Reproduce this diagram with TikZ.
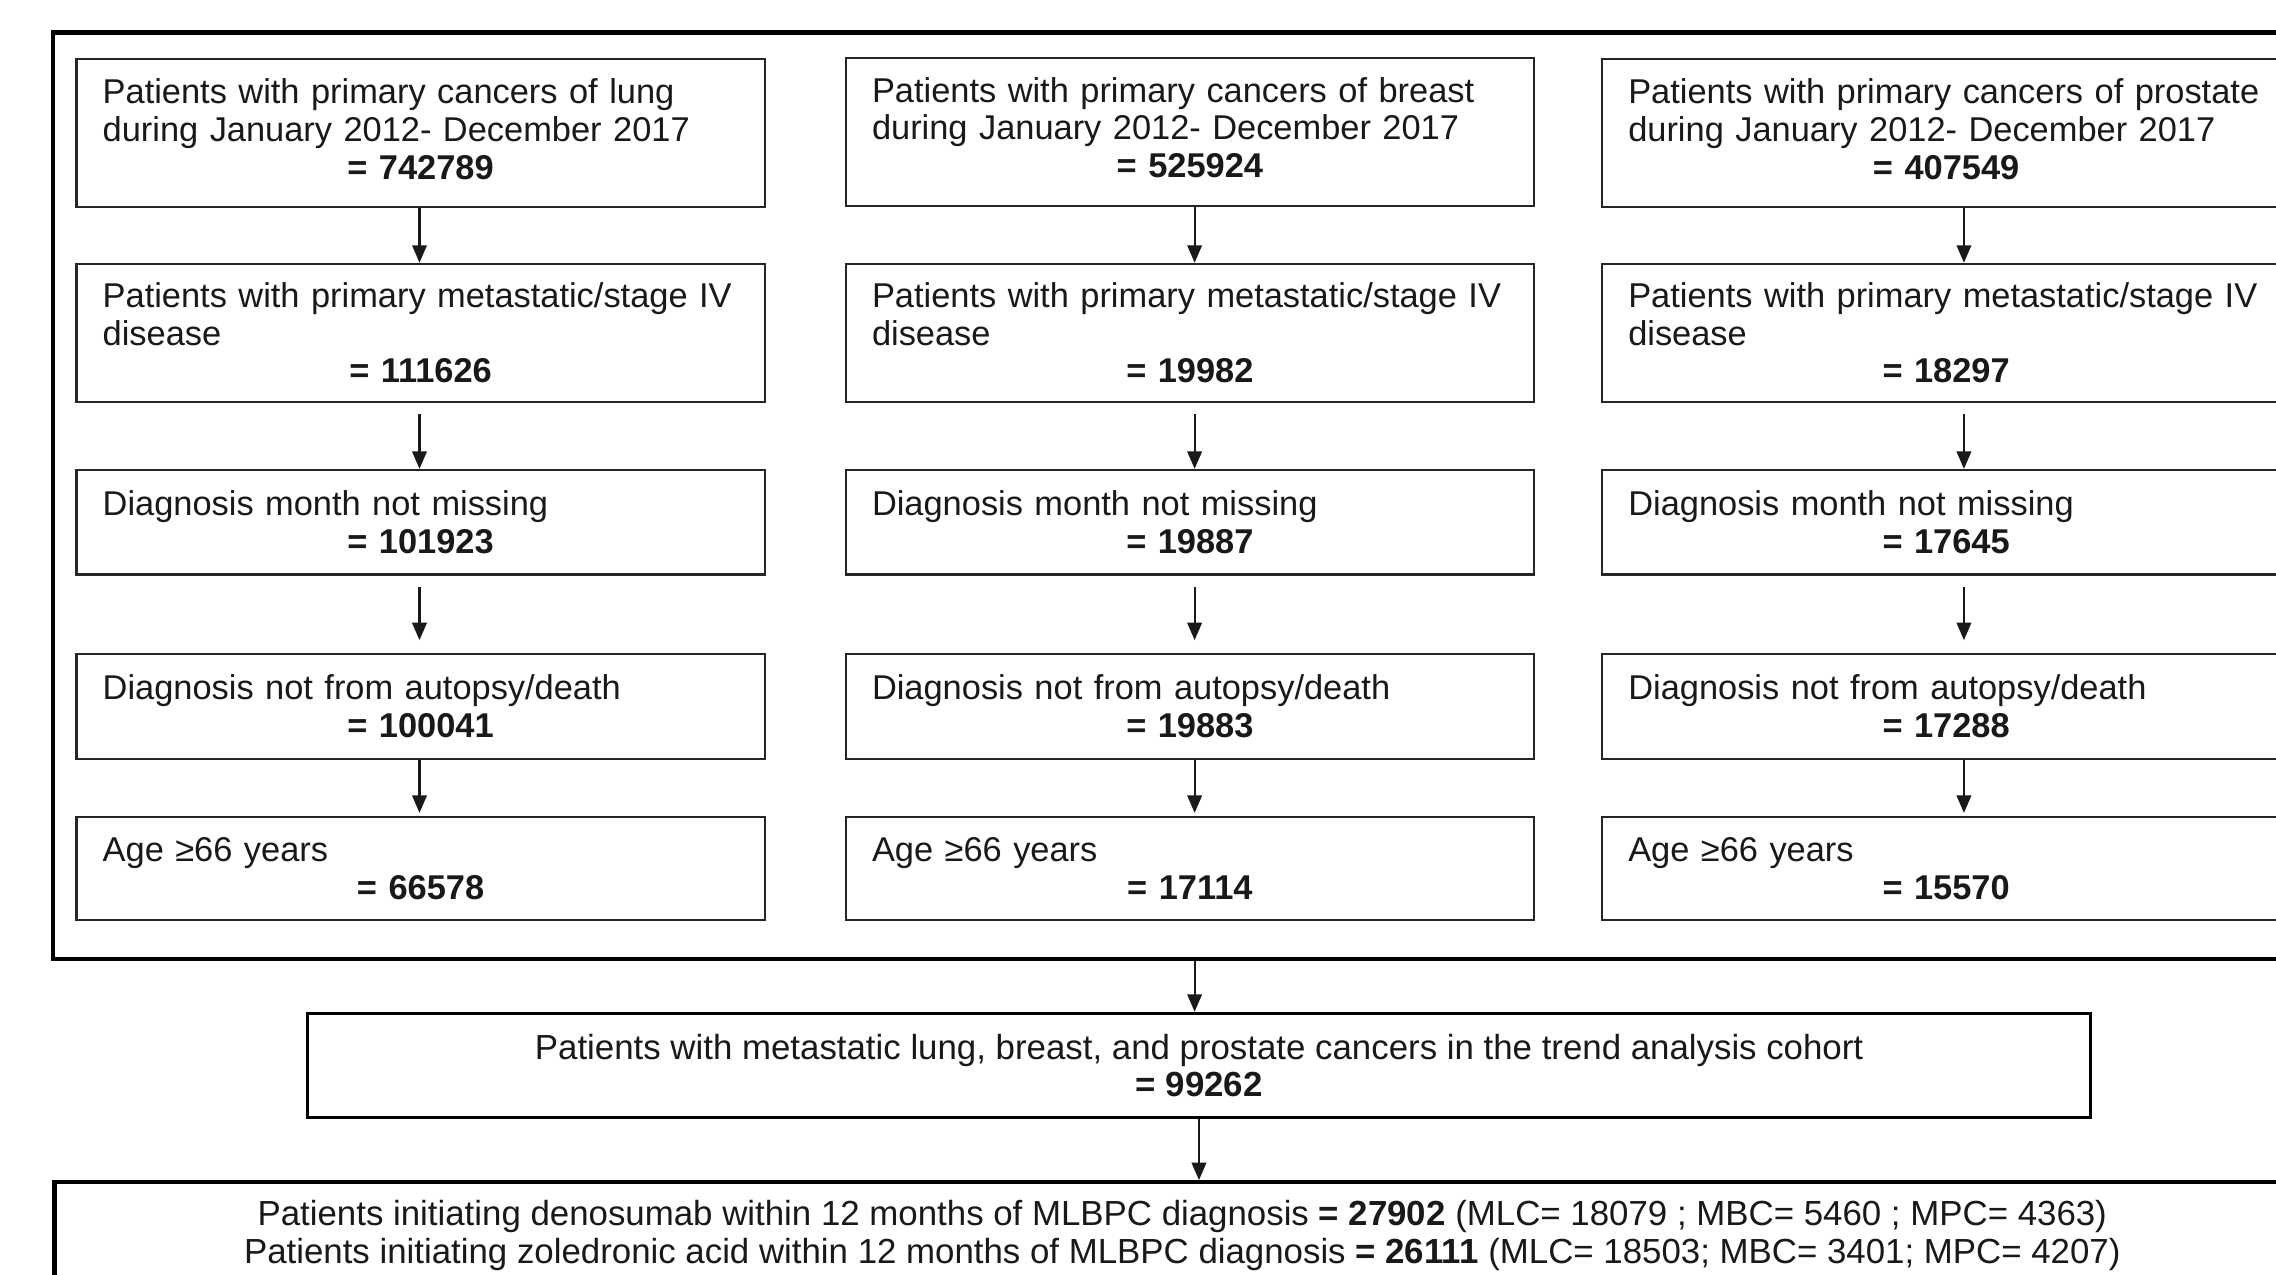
\documentclass[tikz,border=0pt]{standalone}
\usepackage{fontspec}
\setmainfont{Liberation Sans}
\usetikzlibrary{arrows.meta}
\begin{document}
\begin{tikzpicture}[x=0.5pt,y=-0.5pt,
  txt/.style={font=\fontsize{12}{13}\selectfont, text=black!90},
  flowbox/.style={font=\fontsize{11.85}{13}\selectfont, text=black!90, draw=black!85, line width=0.75pt, text width=219pt, inner xsep=9pt, inner ysep=0pt, align=left, anchor=north west},
  bigframe/.style={draw=black, line width=1.5pt, anchor=north west, inner sep=0pt},
  midframe/.style={txt, draw=black, line width=1.1pt, anchor=north west, inner sep=0pt, align=center},
  arr/.style={-{Triangle[length=6pt,width=5pt]}, line width=0.7pt, draw=black!90},
  h1/.style={minimum height=51pt},
  h2/.style={minimum height=47.5pt},
  h3/.style={minimum height=36pt},
  h4/.style={minimum height=36pt},
  h5/.style={minimum height=35.5pt}]
\path[use as bounding box] (0,0) rectangle (1568,878);
\clip (0,0) rectangle (1568,878);
\fill[white] (0,0) rectangle (1568,878);
\newcommand{\numline}[1]{\\\hspace*{\fill}\textbf{#1}\hspace*{\fill}}
\newcommand{\lowstrut}{\rule[-3pt]{0pt}{3pt}}

% outer frame
\node[bigframe, minimum width=777.5pt, minimum height=319pt] (outer) at (35,21) {};

% column 1: lung
\node[flowbox,h1] (r1c1) at (52,40) {\mbox{Patients with primary cancers of lung}\\\mbox{during January 2012- December 2017}\numline{= 742789\lowstrut}};
\node[flowbox,h2] (r2c1) at (52,181) {\mbox{Patients with primary metastatic/stage IV}\\disease\numline{= 111626}};
\node[flowbox,h3] (r3c1) at (52,323) {Diagnosis month not missing\numline{= 101923}};
\node[flowbox,h4] (r4c1) at (52,450) {Diagnosis not from autopsy/death\numline{= 100041}};
\node[flowbox,h5] (r5c1) at (52,562) {Age ≥66 years\numline{= 66578}};

% column 2: breast
\node[flowbox,h1] (r1c2) at (582,39) {\mbox{Patients with primary cancers of breast}\\\mbox{during January 2012- December 2017}\numline{= 525924\lowstrut}};
\node[flowbox,h2] (r2c2) at (582,181) {\mbox{Patients with primary metastatic/stage IV}\\disease\numline{= 19982}};
\node[flowbox,h3] (r3c2) at (582,323) {Diagnosis month not missing\numline{= 19887}};
\node[flowbox,h4] (r4c2) at (582,450) {Diagnosis not from autopsy/death\numline{= 19883}};
\node[flowbox,h5] (r5c2) at (582,562) {Age ≥66 years\numline{= 17114}};

% column 3: prostate
\node[flowbox,h1] (r1c3) at (1103,40) {\mbox{Patients with primary cancers of prostate}\\\mbox{during January 2012- December 2017}\numline{= 407549\lowstrut}};
\node[flowbox,h2] (r2c3) at (1103,181) {\mbox{Patients with primary metastatic/stage IV}\\disease\numline{= 18297}};
\node[flowbox,h3] (r3c3) at (1103,323) {Diagnosis month not missing\numline{= 17645}};
\node[flowbox,h4] (r4c3) at (1103,450) {Diagnosis not from autopsy/death\numline{= 17288}};
\node[flowbox,h5] (r5c3) at (1103,562) {Age ≥66 years\numline{= 15570}};

% cohort box
\node[midframe, minimum width=614pt, minimum height=36pt] (cohort) at (211,697) {Patients with metastatic lung, breast, and prostate cancers in the trend analysis cohort\\\textbf{= 99262}};

% initiation box
\node[midframe, line width=1.5pt, minimum width=777pt, minimum height=36.5pt] (init) at (36,813) {Patients initiating denosumab within 12 months of MLBPC diagnosis \textbf{= 27902} (MLC= 18079 ; MBC= 5460 ; MPC= 4363)\\Patients initiating zoledronic acid within 12 months of MLBPC diagnosis \textbf{= 26111} (MLC= 18503; MBC= 3401; MPC= 4207)};

% arrow columns
\coordinate (ax1) at (289,0);
\coordinate (ax2) at (823,0);
\coordinate (ax3) at (1353,0);
\coordinate (axm) at (823,0);
\coordinate (axb) at (826,0);

\foreach \c in {1,2,3}{
  \draw[arr] (r1c\c.south -| ax\c) -- (r2c\c.north -| ax\c);
  \draw[arr, shorten <=4pt] (r2c\c.south -| ax\c) -- (r3c\c.north -| ax\c);
  \draw[arr, shorten <=4pt, shorten >=4.5pt] (r3c\c.south -| ax\c) -- (r4c\c.north -| ax\c);
  \draw[arr, shorten >=1pt] (r4c\c.south -| ax\c) -- (r5c\c.north -| ax\c);
}
\draw[arr] (outer.south -| axm) -- (cohort.north -| axm);
\draw[arr] (cohort.south -| axb) -- (init.north -| axb);
\end{tikzpicture}
\end{document}
